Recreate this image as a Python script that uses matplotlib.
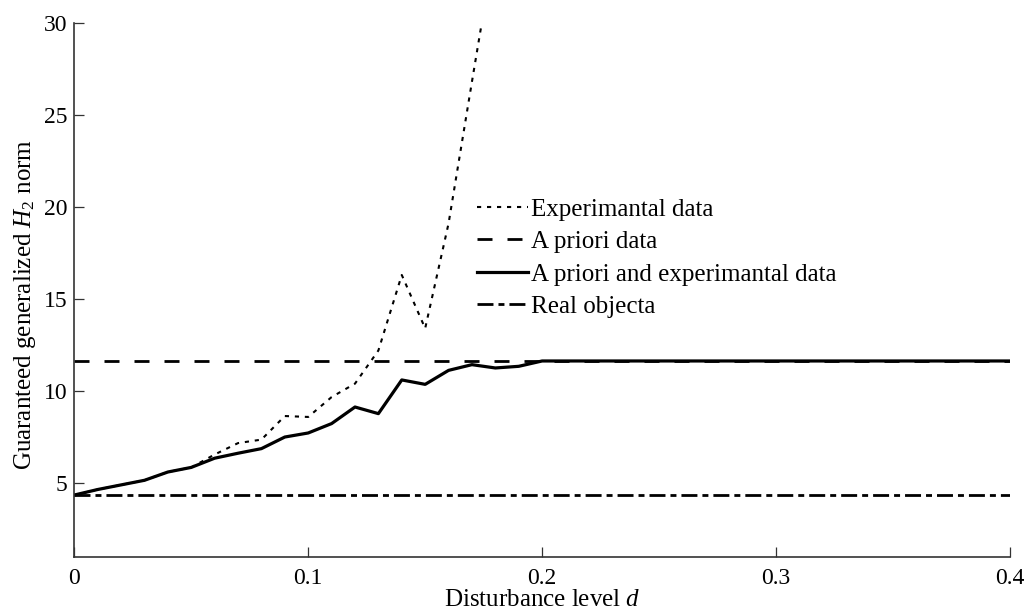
import matplotlib
matplotlib.use("Agg")
import matplotlib.pyplot as plt

# disturbance levels and guaranteed generalized H2 norm values
d_exp = [0.0, 0.01, 0.02, 0.03, 0.04, 0.05, 0.06, 0.07, 0.08, 0.09, 0.10,
         0.11, 0.12, 0.13, 0.14, 0.15, 0.16, 0.17, 0.18]
h2_exp = [4.35, 4.65, 4.9, 5.15, 5.6, 5.85, 6.55, 7.17, 7.36, 8.64, 8.59,
          9.67, 10.4, 12.2, 16.3, 13.4, 19.1, 26.8, 34.4]

d_both = [0.0, 0.01, 0.02, 0.03, 0.04, 0.05, 0.06, 0.07, 0.08, 0.09, 0.10,
          0.11, 0.12, 0.13, 0.14, 0.15, 0.16, 0.17, 0.18, 0.19, 0.20, 0.40]
h2_both = [4.35, 4.65, 4.9, 5.15, 5.6, 5.85, 6.35, 6.62, 6.87, 7.5, 7.72,
           8.23, 9.13, 8.77, 10.6, 10.36, 11.12, 11.43, 11.25, 11.34, 11.63, 11.63]

d_range = [0.0, 0.4]
h2_apriori = [11.63, 11.63]
h2_real = [4.33, 4.33]

labels = ["Experimantal data", "A priori data",
          "A priori and experimantal data", "Real objecta"]

plt.rcParams["font.family"] = ["Liberation Serif", "DejaVu Serif"]
plt.rcParams["mathtext.fontset"] = "custom"
plt.rcParams["mathtext.rm"] = "Liberation Serif"
plt.rcParams["mathtext.it"] = "Liberation Serif:italic"
plt.rcParams["lines.scale_dashes"] = False

fig = plt.figure(figsize=(10.29, 6.14), dpi=100)
ax = fig.add_axes([0.0722, 0.0933, 0.9093, 0.8697])

ax.plot(d_exp, h2_exp, color="black", lw=1.5, dashes=(3.0, 4.2),
        label=labels[0])
ax.plot(d_range, h2_apriori, color="black", lw=2.0, dashes=(10.8, 10.8),
        label=labels[1])
ax.plot(d_both, h2_both, color="black", lw=2.3, label=labels[2])
ax.plot(d_range, h2_real, color="black", lw=2.0,
        dashes=(11.5, 3.6, 4.3, 3.6), label=labels[3])

ax.set_xlim(0, 0.4)
ax.set_ylim(1, 30)
ax.set_xticks([0, 0.1, 0.2, 0.3, 0.4])
ax.set_xticklabels(["0", "0.1", "0.2", "0.3", "0.4"])
ax.set_yticks([5, 10, 15, 20, 25, 30])

for s in ["top", "right"]:
    ax.spines[s].set_visible(False)
for s in ["left", "bottom"]:
    ax.spines[s].set_color("#333333")
    ax.spines[s].set_linewidth(1.2)

ax.tick_params(axis="both", direction="in", length=7.5, width=0.9,
               color="#333333", labelsize=17)
ax.tick_params(axis="x", pad=8)
ax.tick_params(axis="y", pad=5)

ax.set_xlabel("Disturbance level $d$", fontsize=18, labelpad=0)
ax.set_ylabel("Guaranteed generalized $H_2$ norm", fontsize=18)
ax.yaxis.set_label_coords(-0.039, 0.473)

ax.legend(loc="center left", bbox_to_anchor=(0.4636, 0.5798),
          bbox_transform=fig.transFigure, frameon=False, fontsize=18,
          handlelength=2.05, handletextpad=0.1, labelspacing=0.4,
          borderpad=0, borderaxespad=0)

fig.savefig("out.png", dpi=100)
